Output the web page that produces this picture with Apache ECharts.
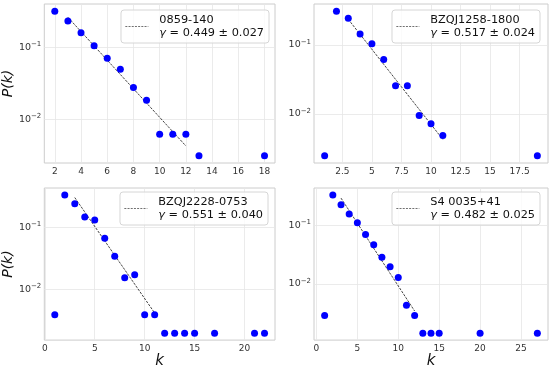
<!DOCTYPE html>
<html><head><meta charset="utf-8">
<script src="https://cdn.jsdelivr.net/npm/echarts@6/dist/echarts.min.js"></script>
<style>html,body{margin:0;padding:0;background:#fff}#c{width:550px;height:370px}</style>
</head><body><div id="c"></div>
<script>
// ---- data ----
const names = ['0859-140', 'BZQJ1258-1800', 'BZQJ2228-0753', 'S4 0035+41'];
const gammas = ['0.449 ± 0.027', '0.517 ± 0.024', '0.551 ± 0.040', '0.482 ± 0.025'];

const k1 = [2,3,4,5,6,7,8,9,10,11,12,13,18];
const p1 = [0.318,0.233,0.159,0.105,0.0703,0.0494,0.0277,0.0184,0.0062,0.0062,0.0062,0.0031,0.0031];
const k2 = [1,2,3,4,5,6,7,8,9,10,11,19];
const p2 = [0.00245,0.310,0.245,0.1445,0.1045,0.0618,0.0256,0.0256,0.00946,0.00715,0.00485,0.00245];
const k3 = [1,2,3,4,5,6,7,8,9,10,11,12,13,14,15,17,21,22];
const p3 = [0.00386,0.332,0.238,0.146,0.130,0.0662,0.0340,0.0153,0.0170,0.00386,0.00386,0.00194,0.00194,0.00194,0.00194,0.00194,0.00194,0.00194];
const k4 = [1,2,3,4,5,6,7,8,9,10,11,12,13,14,15,20,27];
const p4 = [0.00288,0.331,0.2245,0.1556,0.1107,0.0697,0.0465,0.0284,0.0197,0.0129,0.0043,0.00288,0.00144,0.00144,0.00144,0.00144,0.00144];

const fitK1 = [3,12], fitP1 = [0.262,0.00425];
const fitK2 = [3,11], fitP2 = [0.2366,0.00424];
const fitK3 = [3,11], fitP3 = [0.301,0.00411];
const fitK4 = [3,12], fitP4 = [0.292,0.00344];

const xTicks1 = [2,4,6,8,10,12,14,16,18];
const xTicks2 = [2.5,5,7.5,10,12.5,15,17.5];
const xTicks3 = [0,5,10,15,20];
const xTicks4 = [0,5,10,15,20,25];
const yTicks = [0.01, 0.1];

// ---- build ----
const K = [k1,k2,k3,k4], P = [p1,p2,p3,p4];
const FK = [fitK1,fitK2,fitK3,fitK4], FP = [fitP1,fitP2,fitP3,fitP4];
const XT = [xTicks1,xTicks2,xTicks3,xTicks4];
const grids = [
  {left:41, top:4, width:234, height:159},
  {left:314, top:4, width:234, height:159},
  {left:42, top:188, width:233, height:157},
  {left:314, top:188, width:234, height:157}
];
const legendPos = [
  {right:281, top:10}, {right:10, top:10}, {right:282, top:192}, {right:10, top:192}
];
const FONT = 'DejaVu Sans';
const zip = (a,b) => a.map((v,i)=>[v,b[i]]);

function linExt(arr){const lo=Math.min(...arr),hi=Math.max(...arr),m=(hi-lo)*0.05;return [lo-m,hi+m];}
function logExt(arr){const l=arr.map(Math.log10);const lo=Math.min(...l),hi=Math.max(...l),m=(hi-lo)*0.05;return [Math.pow(10,lo-m),Math.pow(10,hi+m)];}

const LF = 11.3;
const FIT = {color:'#222', width:0.85, type:[2.5,1.2]};
const option = {
  animation:false,
  backgroundColor:'#fff',
  grid: grids.map(g=>Object.assign({show:true, borderColor:'#cccccc', borderWidth:1, backgroundColor:'transparent'}, g)),
  xAxis: [0,1,2,3].map(i=>{
    const e = linExt(K[i]);
    return {
      type:'value', gridIndex:i, min:e[0], max:e[1],
      name: i>=2 ? 'k' : '', nameLocation:'middle', nameGap:9,
      nameTextStyle:{fontFamily:FONT, fontStyle:'italic', fontSize:15, color:'#111', verticalAlign:'top'},
      axisLine:{show:false}, axisTick:{show:false, customValues:XT[i]},
      axisLabel:{customValues:XT[i], fontFamily:FONT, fontSize:9, color:'#333', margin:4},
      splitLine:{show:true, lineStyle:{color:'#e6e6e6', width:0.8}}
    };
  }),
  yAxis: [0,1,2,3].map(i=>{
    const e = logExt(P[i]);
    return {
      type:'log', logBase:10, gridIndex:i, min:e[0], max:e[1],
      name: (i%2===0) ? 'P(k)' : '', nameLocation:'middle', nameRotate:90, nameGap:26,
      nameTextStyle:{fontFamily:FONT, fontStyle:'italic', fontSize:14, color:'#111'},
      axisLine:{show:false}, axisTick:{show:false, customValues:yTicks},
      axisLabel:{customValues:yTicks, margin:3, fontFamily:FONT, color:'#333',
        formatter:(v)=>{const ex=Math.log10(v);const r=Math.round(ex);if(Math.abs(ex-r)>1e-6)return '';return '{b|10}{s|−'+(-r)+'}';},
        rich:{b:{fontSize:9.5, fontFamily:FONT, color:'#333'}, s:{fontSize:7, fontFamily:FONT, color:'#333', padding:[0,0,6,0]}}},
      splitLine:{show:true, lineStyle:{color:'#e6e6e6', width:0.8}},
      minorTick:{show:false}
    };
  }),
  legend: [0,1,2,3].map(i=>Object.assign({
    data:[names[i]], orient:'vertical', itemWidth:23, itemHeight:10, itemGap:0,
    backgroundColor:'rgba(255,255,255,0.8)', borderColor:'#d6d6d6', borderWidth:1, borderRadius:3,
    padding:[4,5,4,4], selectedMode:false,
    itemStyle:{opacity:0},
    lineStyle:{color:'#333', width:0.7, type:[2,1.2]},
    formatter:(n)=>'{p| }{n|'+n+'}\n{p| }{g|γ}{n| = '+gammas[names.indexOf(n)]+'}',
    textStyle:{fontFamily:FONT, fontSize:LF, color:'#111', lineHeight:12.5,
      rich:{p:{width:6, fontSize:LF, lineHeight:12.5},
            n:{fontFamily:FONT, fontSize:LF, color:'#111', lineHeight:12.5},
            g:{fontFamily:FONT, fontStyle:'italic', fontSize:LF, color:'#111', lineHeight:12.5}}}
  }, legendPos[i])),
  series: [].concat(
    [0,1,2,3].map(i=>({
      type:'scatter', xAxisIndex:i, yAxisIndex:i, data:zip(K[i],P[i]),
      symbol:'circle', symbolSize:7, itemStyle:{color:'#0000ff', opacity:1}, z:3
    })),
    [0,1,2,3].map(i=>({
      type:'line', name:names[i], xAxisIndex:i, yAxisIndex:i, data:zip(FK[i],FP[i]),
      symbol:'none', lineStyle:FIT, itemStyle:{color:'#222'}, z:2
    }))
  )
};
const chart = echarts.init(document.getElementById('c'), null, {renderer:'canvas'});
chart.setOption(option);
</script></body></html>
